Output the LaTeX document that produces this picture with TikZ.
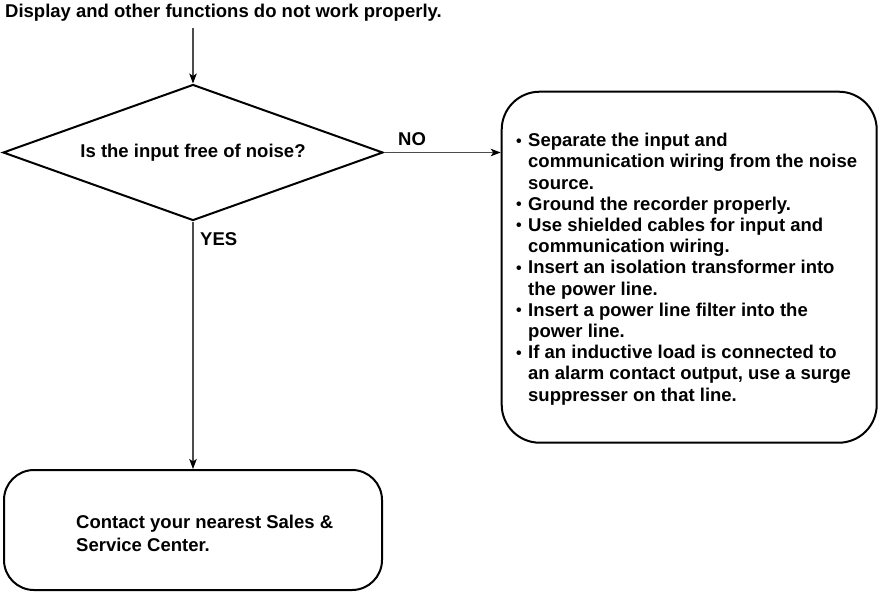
\documentclass[tikz,border=0pt]{standalone}
\usepackage{fontspec}
\setmainfont{Liberation Sans}
\usetikzlibrary{arrows.meta,shapes.geometric}
\newcommand{\bitem}{\makebox[12pt][l]{\raisebox{0.6pt}{\fontsize{16}{16}\selectfont •}}}
\newcommand{\bcont}{\hspace*{12pt}}
\begin{document}
\begin{tikzpicture}[x=1pt,y=-1pt,
  txt/.style={font=\fontsize{18.5}{21.2}\selectfont\bfseries, inner sep=0pt},
  outl/.style={draw=black, line width=2pt},
  conn/.style={draw=black!70, line width=1.1pt, -{Stealth[length=10pt,width=7.5pt,inset=2.5pt,color=black]}}]
\useasboundingbox (0,0) rectangle (882,592);

\node[txt, anchor=base west] (title) at (5,17.3) {Display and other functions do not work properly.};
\coordinate (start) at (193,28);

\node[outl, diamond, aspect=2.79, minimum width=380pt, minimum height=136pt, inner sep=0pt, txt] (dia) at (193,152.5) {Is the input free of noise?};

\node[outl, rectangle, rounded corners=38pt, minimum width=375pt, minimum height=351pt] (fix) at (689.2,267.2) {};
\node[txt, anchor=north west, align=left] (fixtext) at (516,133)
{\bitem Separate the input and\\
 \bcont communication wiring from the noise\\
 \bcont source.\\
 \bitem Ground the recorder properly.\\
 \bitem Use shielded cables for input and\\
 \bcont communication wiring.\\
 \bitem Insert an isolation transformer into\\
 \bcont the power line.\\
 \bitem Insert a power line filter into the\\
 \bcont power line.\\
 \bitem If an inductive load is connected to\\
 \bcont an alarm contact output, use a surge\\
 \bcont suppresser on that line.};

\node[outl, rectangle, rounded corners=30pt, minimum width=378pt, minimum height=120pt] (contact) at (193,530) {};
\node[txt, font=\fontsize{18.5}{22.5}\selectfont\bfseries, anchor=north west, align=left] (contacttext) at (76,515) {Contact your nearest Sales \&\\Service Center.};

\node[txt, anchor=base west] (no) at (398,145.7) {NO};
\node[txt, anchor=base west] (yes) at (200,245.7) {YES};

\draw[conn] (start) -- (dia.north);
\draw[conn] (dia.east) -- (dia.east -| fix.west);
\draw[conn] (dia.south) -- (contact.north);
\end{tikzpicture}
\end{document}
